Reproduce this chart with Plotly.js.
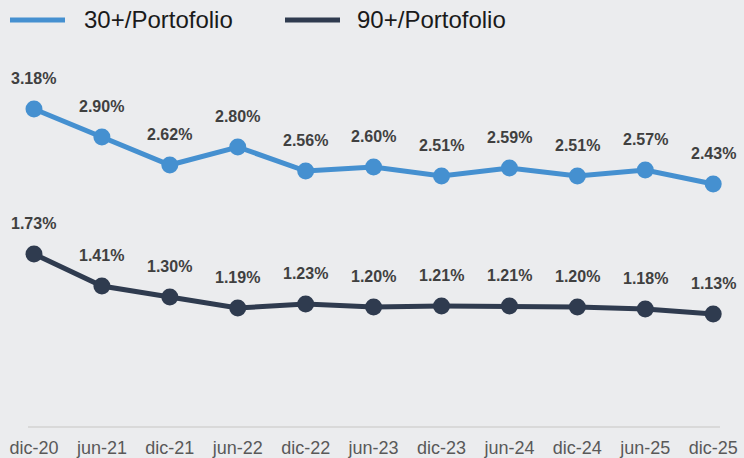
<!DOCTYPE html>
<html><head><meta charset="utf-8">
<script src="https://cdn.plot.ly/plotly-3.0.1.min.js"></script>
<style>html,body{margin:0;padding:0;background:#ebecee;}#chart{width:744px;height:458px;}</style>
</head><body><div id="chart"></div>
<script>
const categories = ["dic-20","jun-21","dic-21","jun-22","dic-22","jun-23","dic-23","jun-24","dic-24","jun-25","dic-25"];
const series30 = [3.18,2.90,2.62,2.80,2.56,2.60,2.51,2.59,2.51,2.57,2.43];
const series90 = [1.73,1.41,1.30,1.19,1.23,1.20,1.21,1.21,1.20,1.18,1.13];
const names = ["30+/Portofolio","90+/Portofolio"];
const colors = ["#4590d0","#2f3b4f"];
const idx = categories.map((c,i)=>i);
const FONT = 'Liberation Sans, Arial, sans-serif';

const traces = [series30, series90].map((s,k)=>({
  x: idx, y: s, type:'scatter', mode:'lines+markers', name: names[k], showlegend:false,
  line:{color:colors[k], width:5}, marker:{color:colors[k], size:17},
  cliponaxis:false, hoverinfo:'skip'
}));
const annotations = [];
[series30, series90].forEach(s=>{
  s.forEach((v,i)=>annotations.push({x:i,y:v,xref:'x',yref:'y',text:v.toFixed(2)+'%',showarrow:false,
    yshift:31,font:{family:FONT,size:16,color:'#404040',weight:'bold'}}));
});
// custom legend (line sample + label)
const H = 458, T = 67, B = 32, PH = H - T - B;
const py = p => 1 + (T - p) / PH;
const legendX = [[10,65,82],[285,340,355]];
const shapes = [];
names.forEach((n,k)=>{
  const [x0,x1,tx] = legendX[k];
  shapes.push({type:'line',xref:'paper',yref:'paper',x0:x0/744,x1:x1/744,y0:py(20),y1:py(20),
    line:{color:colors[k],width:5}});
  annotations.push({xref:'paper',yref:'paper',x:tx/744,y:py(20),xanchor:'left',yanchor:'middle',
    text:n,showarrow:false,font:{family:FONT,size:24,color:'#1a1a1a'}});
});
const layout = {
  width:744,height:458,paper_bgcolor:'#ebecee',plot_bgcolor:'#ebecee',
  margin:{l:0,r:0,t:T,b:B},
  showlegend:false,
  xaxis:{domain:[28/744,720/744],range:[-0.088,10.1],tickvals:idx,ticktext:categories,
    showgrid:false,zeroline:false,showline:true,linecolor:'#d9d9d9',linewidth:2,ticks:'',ticklabelstandoff:4,
    tickfont:{family:FONT,size:18,color:'#595959'},fixedrange:true},
  yaxis:{range:[0.01,3.6],showgrid:false,zeroline:false,showticklabels:false,fixedrange:true},
  annotations:annotations, shapes:shapes
};
Plotly.newPlot('chart',traces,layout,{staticPlot:true,displayModeBar:false});
</script></body></html>
